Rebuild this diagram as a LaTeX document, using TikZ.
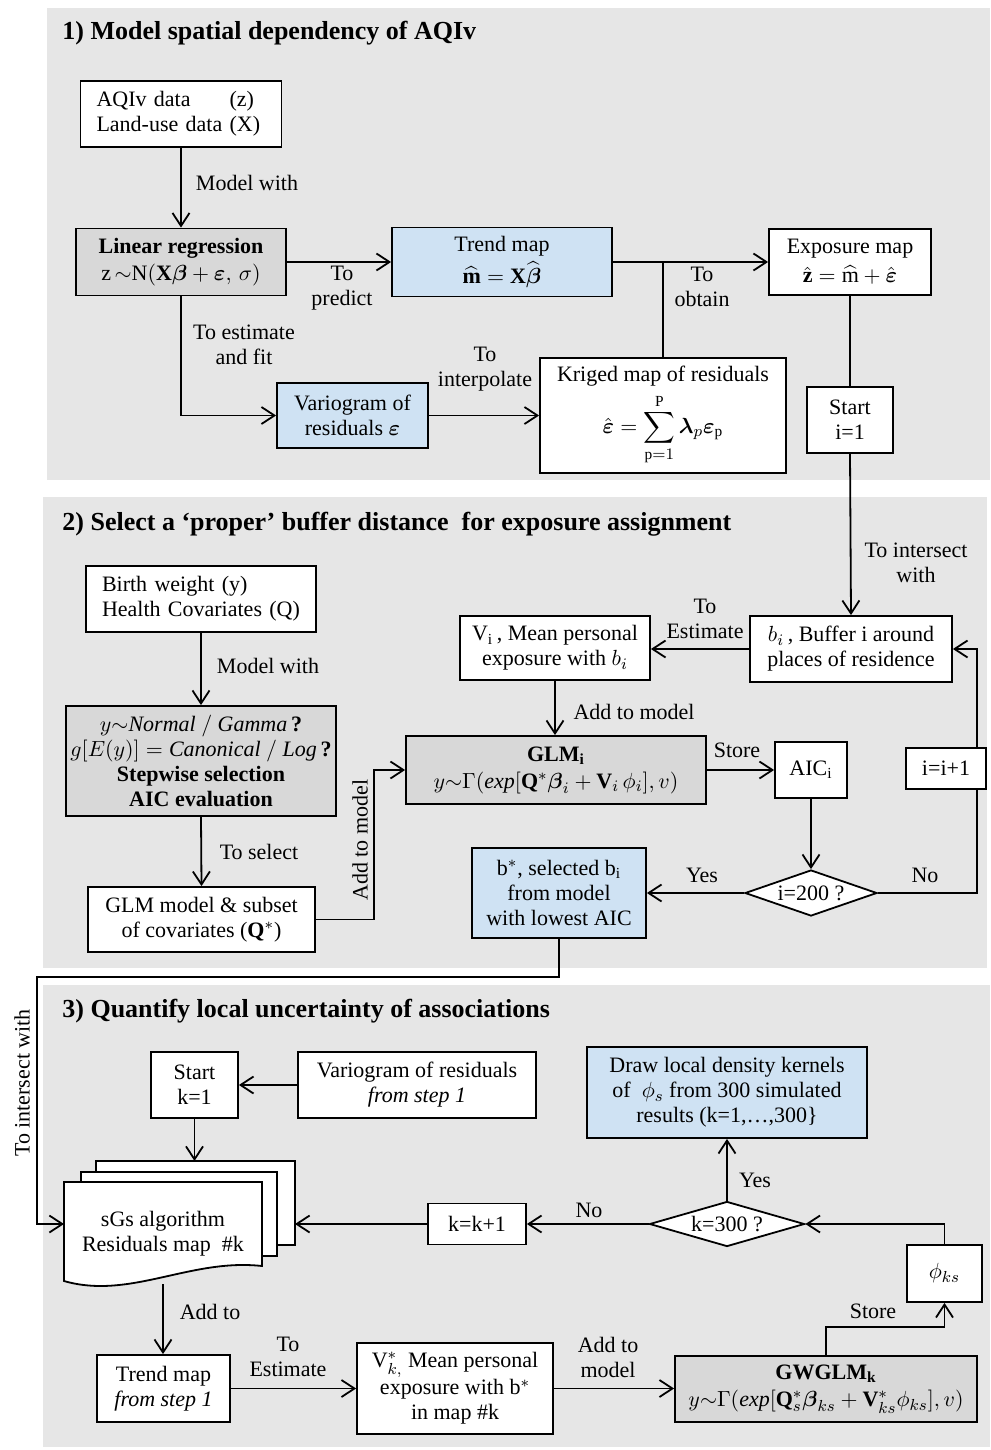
\documentclass[tikz,border=0pt]{standalone}
\usepackage{amsmath,amssymb}
\usepackage{fontspec}
\setmainfont{Liberation Serif}
\usetikzlibrary{arrows.meta,shapes.geometric}
\definecolor{secgray}{RGB}{230,230,230}
\definecolor{boxgray}{RGB}{216,216,216}
\definecolor{boxblue}{RGB}{207,226,243}
\begin{document}
\begin{tikzpicture}[x=0.5pt,y=-0.5pt,
	font=\fontsize{11}{12.5}\selectfont,
	box/.style = {draw, line width=0.9pt, fill=white, align=center, inner sep=1pt},
	gbox/.style = {box, fill=boxgray},
	bbox/.style = {box, fill=boxblue},
	lbox/.style = {box, align=left, inner xsep=8pt},
	sz/.style 2 args = {minimum width=#1*0.5pt, minimum height=#2*0.5pt},
	dia/.style = {draw, line width=0.9pt, fill=white, diamond, aspect=3, inner sep=0pt},
	arr/.style = {line width=0.9pt, -{Straight Barb[length=6.5pt,width=8.5pt]}},
	ln/.style = {line width=0.9pt},
	lbl/.style = {align=center, inner sep=0pt},
	ttl/.style = {anchor=base west, inner sep=0pt, font=\fontsize{13}{15}\selectfont\bfseries}]
	\useasboundingbox (0,0) rectangle (990,1450);
	% Taustat
	\fill[secgray] (47,8) rectangle (990,480);
	\fill[secgray] (43,497) rectangle (987,968);
	\fill[secgray] (43,985) rectangle (990,1447);
	\node[ttl] (t1) at (62,40) {1) Model spatial dependency of AQIv};
	\node[ttl] (t2) at (62,530) {2) Select a ‘proper’ buffer distance \ for exposure assignment};
	\node[ttl] (t3) at (62,1017) {3) Quantify local uncertainty of associations};

	% Osa 1
	\node[lbox, sz={201}{66}, text width=84.5pt] (aqiv) at (181,114) {\begin{tabular}{@{}l@{\ }l@{}}AQIv data & (z)\\ Land-use data & (X)\end{tabular}};
	\node[gbox, sz={210}{67}] (lr) at (181,262) {\textbf{Linear regression}\\[1pt] z\,${\sim}\mathrm{N}(\mathbf{X}\boldsymbol{\beta}+\boldsymbol{\varepsilon},\,\sigma)$};
	\node[bbox, sz={220}{69}] (trend) at (502,262) {Trend map\\[2pt] $\widehat{\mathbf{m}}=\mathbf{X}\widehat{\boldsymbol{\beta}}$};
	\node[box, sz={162}{66}] (expo) at (850,262) {Exposure map\\[2pt] $\hat{\mathbf{z}}=\widehat{\mathrm{m}}+\hat{\boldsymbol{\varepsilon}}$};
	\node[bbox, sz={151}{65}] (vario) at (352.5,415.5) {Variogram of\\ residuals $\boldsymbol{\varepsilon}$};
	\node[box, sz={246}{115}] (krig) at (663,415.5) {Kriged map of residuals\\[3pt] $\displaystyle\hat{\boldsymbol{\varepsilon}}=\sum_{\mathrm{p}=1}^{\mathrm{P}}\boldsymbol{\lambda}_p\boldsymbol{\varepsilon}_{\mathrm{p}}$};
	\node[box, sz={86}{66}] (starti) at (850,420) {Start\\ i=1};
	\draw[arr] (aqiv.south) -- (lr.north);
	\draw[arr] (lr.east) -- (trend.west);
	\draw[arr] (lr.south) |- (vario.west);
	\draw[arr] (vario.east) -- (vario.east -| krig.west);
	\draw[arr] (trend.east) -- (expo.west);
	\draw[ln] (krig.north) -- (krig.north |- trend.east);
	\draw[ln] (expo.south) -- (starti.north);
	\node[lbl] (l11) at (247,183) {Model with};
	\node[lbl] (l12) at (342,288) {To\\ predict};
	\node[lbl] (l13) at (244,345) {To estimate\\ and fit};
	\node[lbl] (l14) at (485,369) {To\\ interpolate};
	\node[lbl] (l15) at (702,287) {To\\ obtain};

	% Osa 2
	\node[lbox, sz={230}{66}, text width=99pt] (birth) at (201,599) {Birth weight (y)\\ Health Covariates (Q)};
	\node[gbox, sz={270}{110}] (step) at (201,761) {$y{\sim}\mathit{Normal}\ /\ \mathit{Gamma}$\,\textbf{?}\\ $g[E(y)]=\mathit{Canonical}\ /\ \mathit{Log}$\,\textbf{?}\\ \textbf{Stepwise selection}\\ \textbf{AIC evaluation}};
	\node[box, sz={227}{65}] (glmsub) at (201.5,919.5) {GLM model \& subset\\ of covariates ($\mathbf{Q}^{*}$)};
	\node[box, sz={190}{64}] (vi) at (555,648) {V$_{\mathrm{i}}$\,, Mean personal\\ exposure with $b_i$};
	\node[box, sz={202}{66}] (bi) at (851,649) {$b_i$\,, Buffer i around\\ places of residence};
	\node[gbox, sz={300}{68}] (glmi) at (556,770) {\textbf{GLM$_{\mathbf{i}}$}\\[1pt] $y{\sim}\Gamma(\mathit{exp}[\mathbf{Q}^{*}\boldsymbol{\beta}_i+\mathbf{V}_i\,\phi_i],v)$};
	\node[box, sz={72}{56}] (aic) at (811,770) {AIC$_{\mathrm{i}}$};
	\node[dia, sz={132}{46}] (dia) at (811,893) {i=200 ?};
	\node[bbox, sz={174}{90}] (bstar) at (559,893) {b$^{*}$, selected b$_{\mathrm{i}}$\\ from model\\ with lowest AIC};
	\node[box, sz={80}{41}] (inc) at (946,768.5) {i=i+1};
	\draw[arr] (starti.south) -- (bi.north);
	\draw[arr] (birth.south) -- (step.north);
	\draw[arr] (step.south) -- (glmsub.north);
	\draw[arr] (glmsub.east) -- ++(58,0) |- (glmi.west);
	\draw[arr] (bi.west) -- (bi.west -| vi.east);
	\draw[arr] (vi.south) -- (vi.south |- glmi.north);
	\draw[arr] (glmi.east) -- (glmi.east -| aic.west);
	\draw[arr] (aic.south) -- (dia.north);
	\draw[arr] (dia.west) -- (bstar.east);
	\draw[ln] (dia.east) -| ([xshift=-5pt]inc.south east);
	\draw[arr] ([xshift=-5pt]inc.north east) |- (bi.east);
	\node[lbl] (l21) at (916,563) {To intersect\\ with};
	\node[lbl] (l22) at (705,619) {To\\ Estimate};
	\node[lbl] (l23) at (634,712) {Add to model};
	\node[lbl] (l24) at (737,750) {Store};
	\node[lbl] (l25) at (702,875) {Yes};
	\node[lbl] (l26) at (925,875) {No};
	\node[lbl] (l27) at (268,666) {Model with};
	\node[lbl] (l28) at (259,852) {To select};
	\node[lbl, rotate=90] (l29) at (360,840) {Add to model};

	% Osa 3
	\node[box, sz={87}{66}] (startk) at (194.5,1085) {Start\\ k=1};
	\node[box, sz={238}{66}] (vario3) at (417,1085) {Variogram of residuals\\ \textit{from step 1}};
	\node[bbox, sz={280}{91}] (kern) at (727,1092.5) {Draw local density kernels\\ of \ $\phi_s$ from 300 simulated\\ results (k=1,…,300\}};
	% sGs pino
	\filldraw[ln, fill=white] (96,1161) rectangle (295,1245);
	\filldraw[ln, fill=white] (81,1172) rectangle (277,1256);
	\filldraw[ln, fill=white] (64,1182) -- (262,1182) -- (262,1266) .. controls (190,1258) and (130,1300) .. (64,1281) -- cycle;
	\node[lbl] (sgs) at (163,1234) {sGs algorithm\\ Residuals map \ \#k};
	\coordinate (sgsT) at (196,1161);
	\coordinate (sgsR) at (295,1224);
	\coordinate (sgsL) at (64,1224);
	\coordinate (sgsB) at (163,1284);
	\coordinate (bend) at (37,977);
	\node[box, sz={98}{41}] (kinc) at (477,1224) {k=k+1};
	\node[dia, sz={155}{45}] (dia3) at (727,1224) {k=300 ?};
	\node[box, sz={75}{57}] (phiks) at (944.5,1273.5) {$\phi_{ks}$};
	\node[box, sz={133}{67}] (trend3) at (163.5,1388.5) {Trend map\\ \textit{from step 1}};
	\node[box, sz={196}{91}] (vk) at (455,1388.5) {V$^{*}_{k,}$ Mean personal\\ exposure with b$^{*}$\\ in map \#k};
	\node[gbox, sz={302}{66}] (gwglm) at (826,1389) {\textbf{GWGLM$_{\mathbf{k}}$}\\[1pt] $y{\sim}\Gamma(\mathit{exp}[\mathbf{Q}^{*}_{s}\boldsymbol{\beta}_{ks}+\mathbf{V}^{*}_{ks}\phi_{ks}],v)$};
	\draw[arr] (bstar.south) |- (bend) |- (sgsL);
	\draw[arr] (vario3.west) -- (startk.east);
	\draw[arr] (startk.south) -- (startk.south |- sgsT);
	\draw[arr] (kinc.west) -- (kinc.west -| sgsR);
	\draw[arr] (dia3.west) -- (kinc.east);
	\draw[arr] (dia3.north) -- (kern.south);
	\draw[arr] (phiks.north) |- (dia3.east);
	\draw[arr] (sgsB) -- (sgsB |- trend3.north);
	\draw[arr] (trend3.east) -- (trend3.east -| vk.west);
	\draw[arr] (vk.east) -- (vk.east -| gwglm.west);
	\draw[arr] (gwglm.north) -- ++(0,-28) -| (phiks.south);
	\node[lbl, rotate=90] (l31) at (22,1083) {To intersect with};
	\node[lbl] (l32) at (755,1180) {Yes};
	\node[lbl] (l33) at (589,1210) {No};
	\node[lbl] (l34) at (210,1312) {Add to};
	\node[lbl] (l35) at (288,1357) {To\\ Estimate};
	\node[lbl] (l36) at (608,1357) {Add to\\ model};
	\node[lbl] (l37) at (873,1311) {Store};
\end{tikzpicture}
\end{document}
